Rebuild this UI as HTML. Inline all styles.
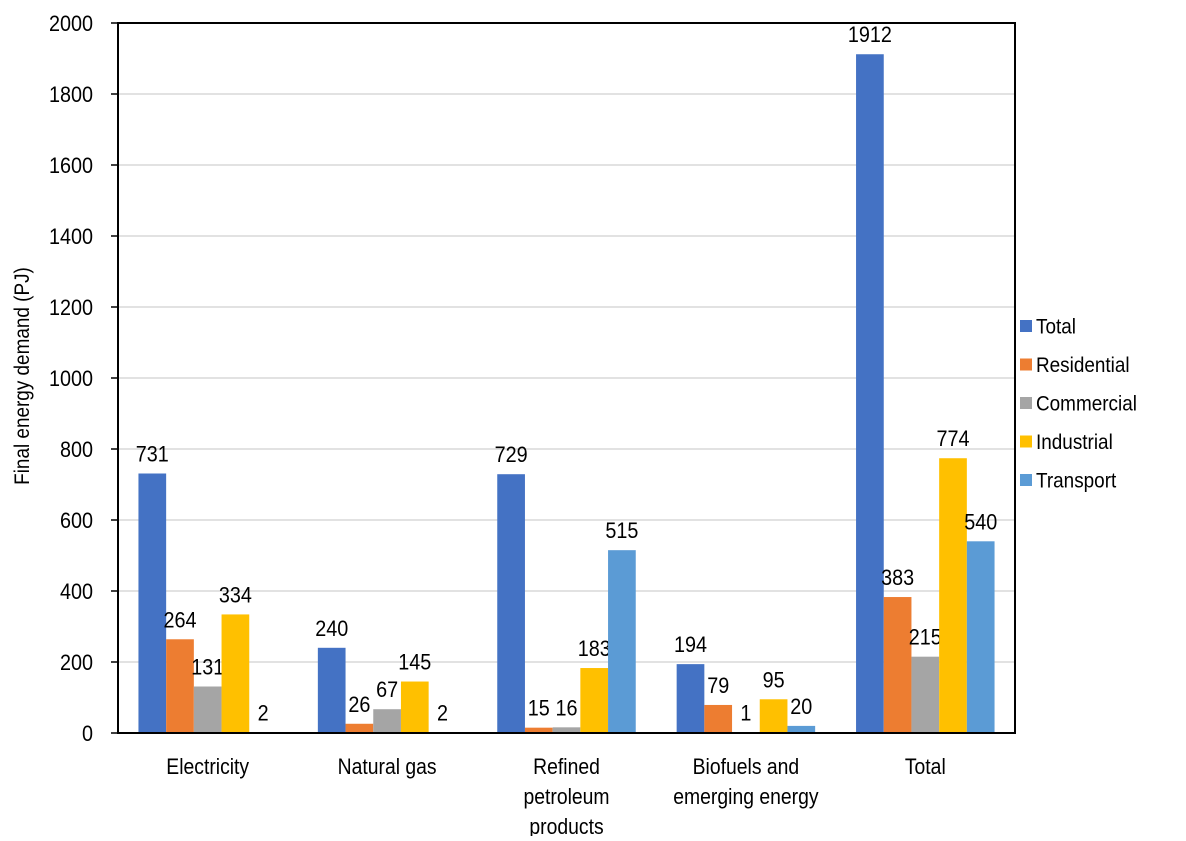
<!DOCTYPE html>
<html><head><meta charset="utf-8"><style>
body{margin:0;background:#fff;}
text{font-family:"Liberation Sans",Arial,sans-serif;fill:#000;}
</style></head><body>
<svg id="c" width="1186" height="836" viewBox="0 0 1186 836" xmlns="http://www.w3.org/2000/svg"></svg>
<script>
const categories=[["Electricity"],["Natural gas"],["Refined","petroleum","products"],["Biofuels and","emerging energy"],["Total"]];
const seriesNames=["Total","Residential","Commercial","Industrial","Transport"];
const seriesColors=["#4472c4","#ed7d31","#a5a5a5","#ffc000","#5b9bd5"];
const totalVals=[731,240,729,194,1912];
const residentialVals=[264,26,15,79,383];
const commercialVals=[131,67,16,1,215];
const industrialVals=[334,145,183,95,774];
const transportVals=[2,2,515,20,540];
const yTicks=[0,200,400,600,800,1000,1200,1400,1600,1800,2000];

const series=[totalVals,residentialVals,commercialVals,industrialVals,transportVals];
const svg=document.getElementById('c');
const NS="http://www.w3.org/2000/svg";
const L=118,R=1015,T=23,B=733,yMax=2000;
const SX=0.88;
const y=v=>B-(v/yMax)*(B-T);
const catW=(R-L)/categories.length;
const barW=27.7;
const x=(ci,si)=>L+ci*catW+(catW-barW*series.length)/2+si*barW;
function mk(tag,attrs,txt){const e=document.createElementNS(NS,tag);for(const k in attrs)e.setAttribute(k,attrs[k]);if(txt!==undefined)e.textContent=txt;svg.appendChild(e);return e;}
function tx(px,py,anchor,size,str,extra){
  return mk('text',{x:0,y:0,'text-anchor':anchor,'font-size':size,transform:'translate('+px+','+py+')'+(extra||'')+' scale('+SX+',1)'},str);
}

yTicks.forEach(t=>{
  if(t>0&&t<yMax){const g=mk('line',{x1:L,x2:R,y1:y(t),y2:y(t),stroke:'#d9d9d9','stroke-width':1.5});
  
  }
  const tk=mk('line',{x1:L-7,x2:L,y1:y(t),y2:y(t),stroke:'#000','stroke-width':1.5});
  
  
  const lb=tx(L-25,y(t)+8,'end',22.5,String(t));
  
  
});

series.forEach((vals,si)=>{
  vals.forEach((v,ci)=>{
    const r=mk('rect',{x:x(ci,si),y:y(v),width:barW,height:B-y(v),fill:seriesColors[si]});
    
    
    const t=tx(x(ci,si)+barW/2,y(v)-12,'middle',22.5,String(v));
    
    
  });
});

const box=mk('rect',{x:L,y:T,width:R-L,height:B-T,fill:'none',stroke:'#000','stroke-width':2});



categories.forEach((lines,ci)=>{
  const cx=L+ci*catW+catW/2;
  lines.forEach((ln,i)=>{
    const t=tx(cx,774+i*30,'middle',22,ln);
    
    
  });
});

const yt=tx(29,376,'middle',21.5,'Final energy demand (PJ)',' rotate(-90)');



seriesNames.forEach((n,i)=>{
  const yy=326+i*38.5;
  const sq=mk('rect',{x:1020,y:yy-6,width:12,height:12,fill:seriesColors[i]});
  
  
  const t=tx(1036,yy+7.5,'start',21.5,n);
  
  
});
</script>
</body></html>
